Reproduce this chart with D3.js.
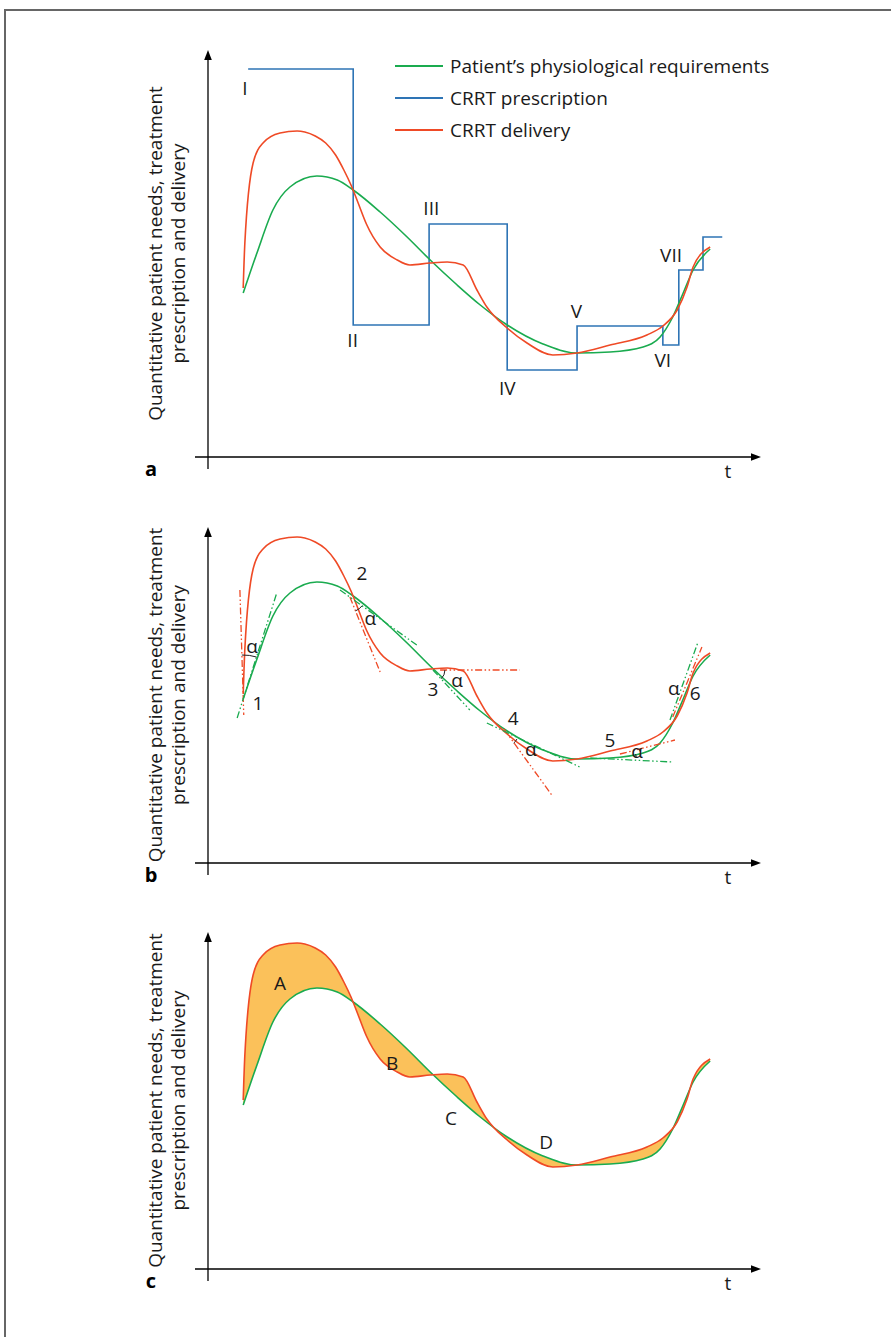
<!DOCTYPE html>
<html><head><meta charset="utf-8">
<script src="https://cdn.jsdelivr.net/npm/d3@7"></script>
<style>
body{margin:0;background:#fff}
svg{display:block}
text{font-family:"Open Sans","Noto Sans",sans-serif;fill:#1a1a1a}
</style>
</head><body>
<svg id="chart" width="891" height="1337"></svg>
<script>
// ---------- DATA (t = time units, v = quantity units) ----------
const requirementPts = [
  [6.4,41],[8.9,51],[11.8,61.75],[14.9,67.5],[19.8,70.25],[23.5,69.25],[26.4,66.75],
  [31.3,61.25],[36.2,55],[40.4,49.25],[45.3,43],[49.5,38],[54.4,33],[60.9,28.25],
  [67.1,26],[73.1,26.25],[79.1,27.5],[82.2,30],[84.5,35],[86.4,41],[88.2,46.75],[91.3,52]
];
const deliveryPts = [
  [6.4,42.25],[6.7,53.5],[8.2,73.5],[10.0,78.5],[13.1,81],[16.2,81.5],[17.6,81.25],
  [19.5,80.25],[21.4,78.5],[23.2,75.5],[24.7,71.75],[26.0,68],[27.3,63.5],[28.8,58.25],
  [31.3,52.5],[34.4,49.25],[36.7,48],
  [40.4,48.5],[43.5,48.75],[46.4,48],[48.9,41.75],[50.7,37.5],[54.4,32.25],[58,28.5],
  [62.7,25.5],[67.1,26],[73.1,28],[79.8,30.5],[82.7,32.75],[85.3,36.75],[87.1,42.5],
  [88.2,47.5],[91.3,52.5]
];
// step prescription: each point = start of a level (step-after)
const prescriptionPts = [
  [7.3,97],[26.4,33],[40.2,58.25],[54.4,21.75],[67.1,32.75],[82.7,28],[85.6,46.75],[90,55],[93.5,55]
];
const legendLabels = ["Patient\u2019s physiological requirements","CRRT prescription","CRRT delivery"];
const romanLabels = [
  {text:"I",t:6.7,v:90.5},{text:"II",t:26.3,v:27.5},{text:"III",t:40.6,v:60.5},
  {text:"IV",t:54.4,v:15.5},{text:"V",t:67,v:34.75},{text:"VI",t:82.7,v:22.5},{text:"VII",t:84.2,v:48.75}
];
// tangents at crossing points (panel b)
const tangentVertices = [[6.4,40.75],[25.8,66.5],[40.9,48.25],[54.5,32],[76.2,26.5],[84.2,36]];
const redTangents = [
  [[5.8,68.25],[6.5,37]],
  [[25.8,66.5],[31.3,47.75]],
  [[42.2,48.25],[56.7,48.25]],
  [[53.8,33.5],[62.5,17]],
  [[74.9,27.25],[84.9,30.75]],
  [[84.5,36.5],[89.8,54]]
];
const greenTangents = [
  [[5.3,36.25],[12.5,67.5]],
  [[24,68.25],[38.2,54.25]],
  [[40.9,48.25],[47.6,38.25]],
  [[50.7,35],[67.6,24]],
  [[69.5,26.25],[84.4,25.25]],
  [[84,35.75],[89.1,55.25]]
];
const alphaLabels = [[8.0,52.5],[29.5,59.5],[45.3,44],[58.7,26.75],[78,26.25],[84.7,42]];
const pointLabels = [
  {text:"1",t:9.1,v:38.25},{text:"2",t:28,v:70.75},{text:"3",t:40.9,v:41.75},
  {text:"4",t:55.5,v:34.5},{text:"5",t:73.1,v:29},{text:"6",t:88.6,v:40.75}
];
const areaLabels = [
  {text:"A",t:13.1,v:69.75},{text:"B",t:33.5,v:49.75},{text:"C",t:44.2,v:36},{text:"D",t:61.5,v:30}
];
const panelNames = ["a","b","c"];
const yLabelLines = ["Quantitative patient needs, treatment","prescription and delivery"];

// ---------- LAYOUT ----------
const W = 891, H = 1337;
const panelOffsets = [0, 406, 812];
const axisTops = [50, 527, 932];
const arcRadii = [45, 15, 12, 10, 9, 0];
const COL = {green:"#1aab4f", blue:"#2e74b5", red:"#ef4a26", fill:"#fbc15a"};
const FS = "19px";

const svg = d3.select("#chart");
svg.append("path").attr("d",`M${W},10H5V${H}`).attr("fill","none").attr("stroke","#666").attr("stroke-width",2);

const x = d3.scaleLinear().domain([0,100]).range([208,758]);
const line = (y) => d3.line().x(d=>x(d[0])).y(d=>y(d[1])).curve(d3.curveMonotoneX);

panelNames.forEach((name, i) => {
  const off = panelOffsets[i];
  const y = d3.scaleLinear().domain([0,100]).range([457+off, 57+off]);
  const g = svg.append("g");
  const axisY = y(0), top = axisTops[i];

  // axes
  g.append("line").attr("x1",x(0)).attr("x2",x(0)).attr("y1",axisY+12).attr("y2",top+8)
    .attr("stroke","#000").attr("stroke-width",1.3);
  g.append("path").attr("d",`M${x(0)},${top}L${x(0)-3.8},${top+10}L${x(0)+3.8},${top+10}Z`).attr("fill","#000");
  g.append("line").attr("x1",195).attr("x2",752).attr("y1",axisY).attr("y2",axisY)
    .attr("stroke","#000").attr("stroke-width",1.3);
  g.append("path").attr("d",`M761,${axisY}L751,${axisY-3.8}L751,${axisY+3.8}Z`).attr("fill","#000");
  g.append("text").attr("x",728).attr("y",axisY+21).attr("text-anchor","middle").style("font-size",FS).text("t");
  g.append("text").attr("x",151).attr("y",axisY+19).attr("text-anchor","middle")
    .style("font-size","20px").style("font-weight","bold").style("fill","#000").text(name);

  // y label
  const midY = (top + axisY)/2;
  yLabelLines.forEach((s, k) => {
    g.append("text").attr("transform",`translate(${162+k*23},${midY}) rotate(-90)`)
      .attr("text-anchor","middle").style("font-size",FS).text(s);
  });

  const ln = line(y);

  if (i === 2) {
    const gs = requirementPts[0], ge = requirementPts[requirementPts.length-1];
    const chord = `L${x(ge[0])},${y(ge[1])}L${x(gs[0])},${y(gs[1])}Z`;
    g.append("path").attr("d", ln(deliveryPts) + chord + ln(requirementPts) + "Z")
      .attr("fill",COL.fill).attr("fill-rule","evenodd").attr("stroke","none");
  }

  if (i === 0) {
    g.append("path").datum(prescriptionPts)
      .attr("d", d3.line().x(d=>x(d[0])).y(d=>y(d[1])).curve(d3.curveStepAfter))
      .attr("fill","none").attr("stroke",COL.blue).attr("stroke-width",1.6);
  }

  g.append("path").attr("d", ln(requirementPts)).attr("fill","none").attr("stroke",COL.green).attr("stroke-width",1.6);
  g.append("path").attr("d", ln(deliveryPts)).attr("fill","none").attr("stroke",COL.red).attr("stroke-width",1.6);

  if (i === 0) {
    const lc = [COL.green, COL.blue, COL.red];
    legendLabels.forEach((s,k) => {
      const ly = 66 + k*32;
      g.append("line").attr("x1",395).attr("x2",443).attr("y1",ly).attr("y2",ly).attr("stroke",lc[k]).attr("stroke-width",1.8);
      g.append("text").attr("x",450).attr("y",ly+7).style("font-size",FS).text(s);
    });
    romanLabels.forEach(r => {
      g.append("text").attr("x",x(r.t)).attr("y",y(r.v)).attr("text-anchor","middle").style("font-size",FS).text(r.text);
    });
  }

  if (i === 1) {
    const dash = "7,2.5,1.5,2.5,1.5,2.5";
    redTangents.forEach(p => {
      g.append("line").attr("x1",x(p[0][0])).attr("y1",y(p[0][1])).attr("x2",x(p[1][0])).attr("y2",y(p[1][1]))
        .attr("stroke",COL.red).attr("stroke-width",1.3).attr("stroke-dasharray",dash);
    });
    greenTangents.forEach(p => {
      g.append("line").attr("x1",x(p[0][0])).attr("y1",y(p[0][1])).attr("x2",x(p[1][0])).attr("y2",y(p[1][1]))
        .attr("stroke",COL.green).attr("stroke-width",1.3).attr("stroke-dasharray",dash);
    });
    tangentVertices.forEach((vt, k) => {
      const r = arcRadii[k];
      if (!r) return;
      const vx = x(vt[0]), vy = y(vt[1]);
      const far = (seg) => {
        const d = seg.map(p => Math.hypot(x(p[0])-vx, y(p[1])-vy));
        const p = d[0] > d[1] ? seg[0] : seg[1];
        return Math.atan2(y(p[1])-vy, x(p[0])-vx);
      };
      const a1 = far(redTangents[k]), a2 = far(greenTangents[k]);
      let diff = a2 - a1;
      while (diff > Math.PI) diff -= 2*Math.PI;
      while (diff < -Math.PI) diff += 2*Math.PI;
      const sx = vx + r*Math.cos(a1), sy = vy + r*Math.sin(a1);
      const ex = vx + r*Math.cos(a2), ey = vy + r*Math.sin(a2);
      g.append("path").attr("d",`M${sx},${sy}A${r},${r} 0 0 ${diff>0?1:0} ${ex},${ey}`)
        .attr("fill","none").attr("stroke","#222").attr("stroke-width",1);
    });
    alphaLabels.forEach(a => {
      g.append("text").attr("x",x(a[0])).attr("y",y(a[1])).attr("text-anchor","middle").style("font-size",FS).text("\u03b1");
    });
    pointLabels.forEach(p => {
      g.append("text").attr("x",x(p.t)).attr("y",y(p.v)).attr("text-anchor","middle").style("font-size",FS).text(p.text);
    });
  }

  if (i === 2) {
    areaLabels.forEach(p => {
      g.append("text").attr("x",x(p.t)).attr("y",y(p.v)).attr("text-anchor","middle").style("font-size",FS).text(p.text);
    });
  }
});
</script>
</body></html>
